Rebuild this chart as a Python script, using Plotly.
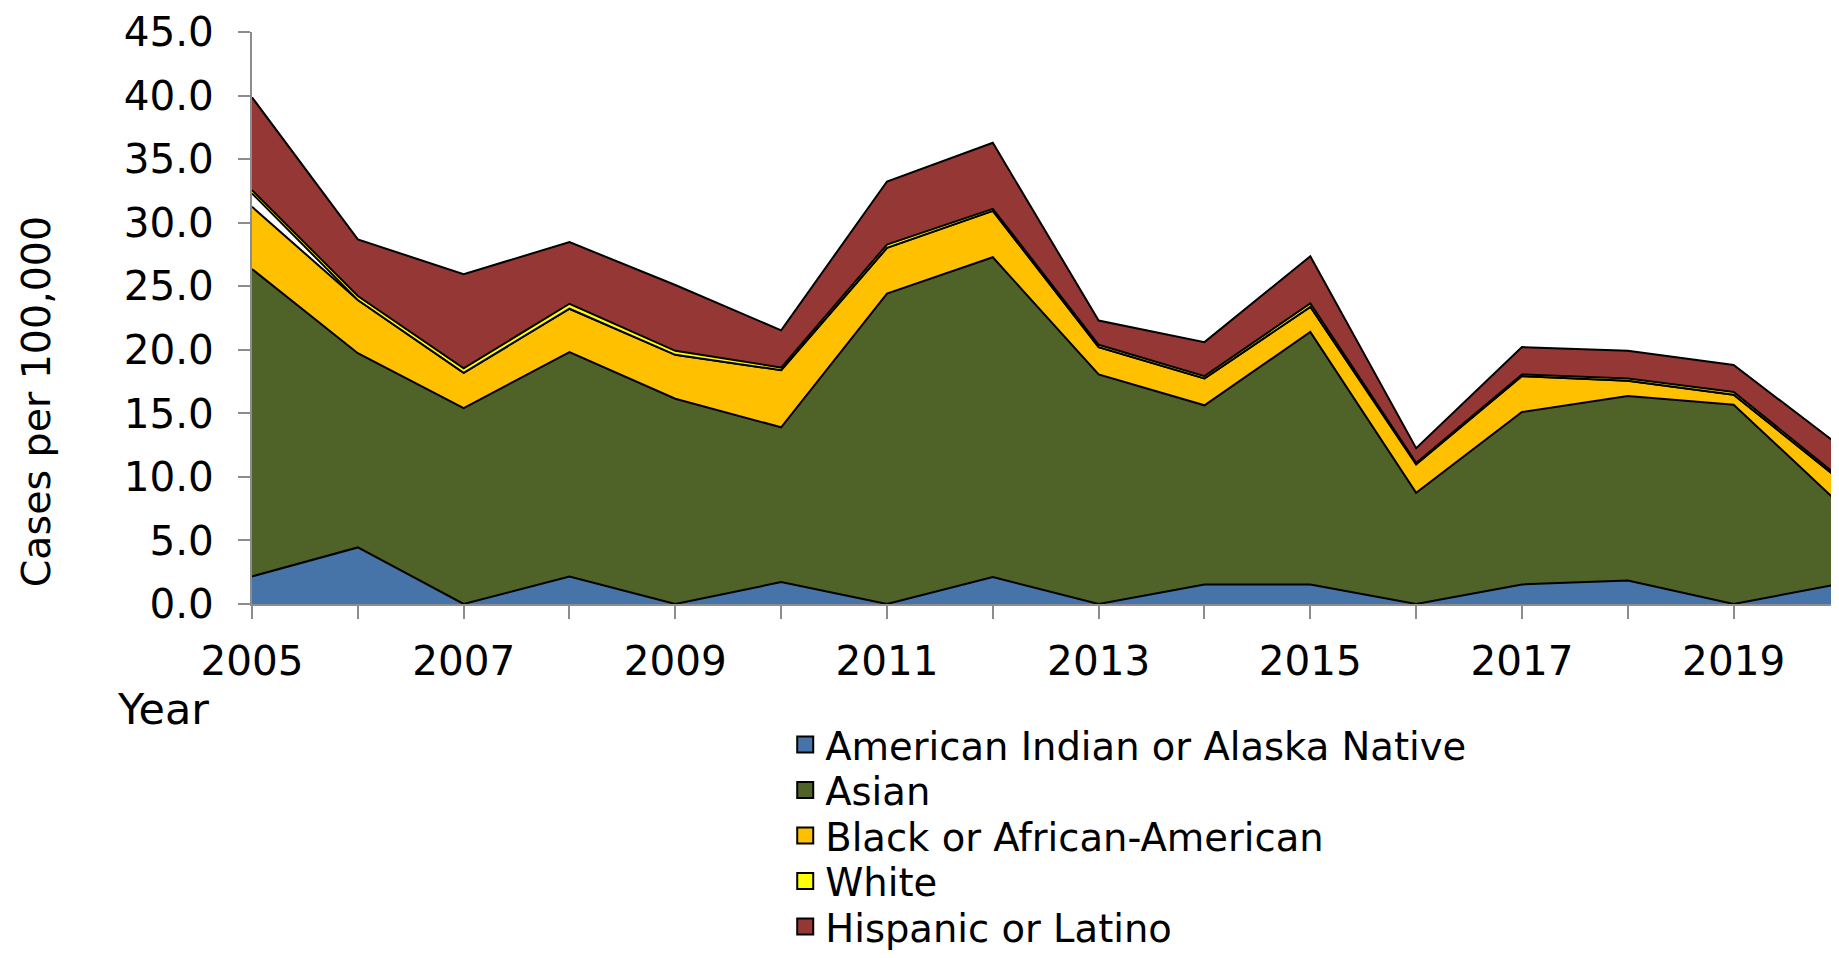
import plotly.graph_objects as go

years = list(range(2005, 2021))
american_indian = [2.17, 4.45, 0.0, 2.17, 0.0, 1.72, 0.0, 2.12, 0.0, 1.54, 1.54, 0.0, 1.54, 1.85, 0.0, 1.59]
asian = [24.18, 15.28, 15.41, 17.64, 16.15, 12.18, 24.42, 25.16, 18.06, 14.09, 19.86, 8.74, 13.56, 14.52, 15.68, 6.30]
black = [4.90, 4.18, 2.78, 3.42, 3.45, 4.50, 3.60, 3.65, 2.15, 2.11, 1.98, 2.25, 2.83, 1.19, 0.79, 1.91]
unlabeled = [1.05, 0, 0, 0, 0, 0, 0, 0, 0, 0, 0, 0, 0, 0, 0, 0]
white = [0.26, 0.32, 0.35, 0.39, 0.32, 0.20, 0.26, 0.16, 0.18, 0.19, 0.27, 0.11, 0.13, 0.18, 0.21, 0.17]
hispanic = [7.30, 4.45, 7.41, 4.85, 5.18, 2.93, 4.96, 5.19, 1.91, 2.67, 3.71, 1.16, 2.15, 2.18, 2.12, 2.48]

x_tick_years = [2005, 2007, 2009, 2011, 2013, 2015, 2017, 2019]
x_tick_labels = ["2005", "2007", "2009", "2011", "2013", "2015", "2017", "2019"]

series = [
    ("American Indian or Alaska Native", american_indian, "#4674A8", True),
    ("Asian", asian, "#4F6228", True),
    ("Black or African-American", black, "#FFC000", True),
    ("Unlabeled", unlabeled, "#FFFFFF", False),
    ("White", white, "#FFFF00", True),
    ("Hispanic or Latino", hispanic, "#953735", True),
]

FONT = "DejaVu Sans"
AXIS_GRAY = "#8C8C8C"
FIG_W, FIG_H = 1823, 942

fig = go.Figure()
for name, vals, color, show in series:
    fig.add_trace(go.Scatter(
        x=years, y=vals, name=name, stackgroup="one", mode="lines",
        line=dict(color="black", width=2), fillcolor=color, showlegend=False,
    ))

# legend rows: centres in figure pixels from the top
legend_rows_px = [737, 782.5, 828, 873.5, 919]
legend_layout = {}
row = 0
for name, vals, color, show in series:
    if not show:
        continue
    lid = "legend" if row == 0 else f"legend{row + 1}"
    fig.add_trace(go.Scatter(
        x=[None], y=[None], name=name, mode="markers", legend=lid,
        marker=dict(symbol="square", size=16, color=color, line=dict(color="black", width=2)),
        showlegend=True,
    ))
    legend_layout[lid] = dict(
        x=0.3377, y=1 - legend_rows_px[row] / FIG_H, xref="paper", yref="container",
        xanchor="left", yanchor="middle",
        font=dict(family=FONT, size=38.5, color="black"),
        bgcolor="rgba(0,0,0,0)", itemsizing="trace",
    )
    row += 1

fig.update_layout(
    width=FIG_W, height=FIG_H,
    margin=dict(l=244, r=0, t=21, b=FIG_H - 596),
    paper_bgcolor="white", plot_bgcolor="white",
    font=dict(family=FONT, size=38.5, color="black"),
    showlegend=True,
    xaxis=dict(range=[2005, 2019.92], tickmode="array",
               tickvals=x_tick_years, ticktext=x_tick_labels,
               ticks="outside", ticklen=13, tickwidth=2, tickcolor=AXIS_GRAY,
               ticklabelstandoff=7, ticklabeloverflow="allow",
               showline=True, linecolor=AXIS_GRAY, linewidth=2,
               showgrid=False, zeroline=False,
               minor=dict(tickmode="array", tickvals=years, ticks="outside", ticklen=13,
                          tickwidth=2, tickcolor=AXIS_GRAY, showgrid=False),
               tickfont=dict(family=FONT, size=40.5, color="black")),
    yaxis=dict(range=[0, 45], dtick=5, tick0=0, tickformat=".1f",
               ticks="outside", ticklen=12, tickwidth=2, tickcolor=AXIS_GRAY,
               ticklabelstandoff=16, ticklabeloverflow="allow",
               showline=True, linecolor=AXIS_GRAY, linewidth=2,
               showgrid=False, zeroline=False,
               tickfont=dict(family=FONT, size=40.5, color="black")),
    annotations=[
        dict(text="Cases per 100,000", xref="paper", yref="paper",
             x=-0.1367, y=0.353, xanchor="center", yanchor="middle",
             textangle=-90, showarrow=False, font=dict(family=FONT, size=39.5, color="black")),
        dict(text="Year", xref="paper", yref="paper",
             x=-0.087, y=-0.184, xanchor="left", yanchor="middle",
             showarrow=False, font=dict(family=FONT, size=43, color="black")),
    ],
    **legend_layout,
)

fig.write_html("out.html")
